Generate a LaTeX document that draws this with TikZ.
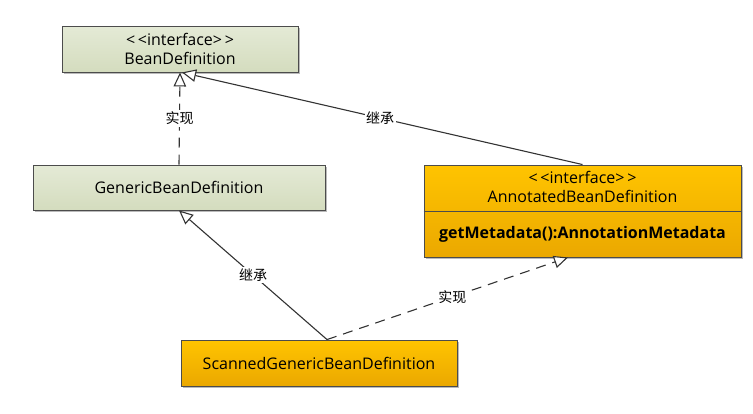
\documentclass[tikz,border=0pt]{standalone}
\usepackage{fontspec}
\setmainfont{Open Sans}
\newfontfamily\cjk{Noto Sans CJK SC}
\usetikzlibrary{arrows.meta,shadows,calc}
\begin{document}
\begin{tikzpicture}[x=1pt,y=-1pt,
  font=\fontsize{16}{20}\selectfont,
  box/.style={draw=black!70, line width=0.9pt, minimum width=#1, inner sep=0pt,
    drop shadow={shadow xshift=2pt, shadow yshift=-2pt, fill=black!45, opacity=0.6}},
  greenbox/.style={box=#1, top color={rgb,255:red,228;green,234;blue,214}, bottom color={rgb,255:red,212;green,220;blue,190}},
  orangebox/.style={box=#1, top color={rgb,255:red,255;green,196;blue,0}, bottom color={rgb,255:red,235;green,168;blue,0}},
  conn/.style={draw=black!80, line width=1.1pt},
  gen/.style={conn, -{Triangle[open, length=14pt, width=12.5pt, fill=white]}},
  real/.style={gen, dash pattern=on 10pt off 7pt},
  lbl/.style={fill=white, inner sep=1.5pt, font=\cjk\fontsize{14}{16}\selectfont}
]
\useasboundingbox (0,0) rectangle (753,413);
\node[greenbox=236pt, minimum height=46pt, align=center] (bean) at (180,49)
  {<\,<interface>\,>\\[-1pt]BeanDefinition};
\node[greenbox=292pt, minimum height=45pt] (generic) at (179,187.5) {GenericBeanDefinition};
\node[orangebox=317pt, minimum height=92pt] (anno) at (582.5,211) {};
\draw[black!70, line width=0.9pt] (anno.west) -- (anno.east);
\node[align=center] (annoname) at (582.5,187) {<\,<interface>\,>\\[-1pt]AnnotatedBeanDefinition};
\node[font=\fontsize{16}{20}\selectfont\bfseries] (annometh) at (582.5,234) {getMetadata():AnnotationMetadata};
\node[orangebox=276pt, minimum height=46pt] (scan) at (319,363) {ScannedGenericBeanDefinition};

\coordinate (scantop) at ($(scan.north)+(8,0)$);
\draw[real] (generic.north) -- node[lbl, pos=0.5] {实现} (bean.south);
\draw[gen] (anno.north) -- node[lbl, pos=0.505] {继承} ($(bean.south)+(2,0)$);
\draw[gen] (scantop) -- node[lbl, pos=0.5] {继承} (generic.south);
\draw[real] (scantop) -- node[lbl, pos=0.52] {实现} ($(anno.south)+(-14.5,0)$);
\end{tikzpicture}
\end{document}
